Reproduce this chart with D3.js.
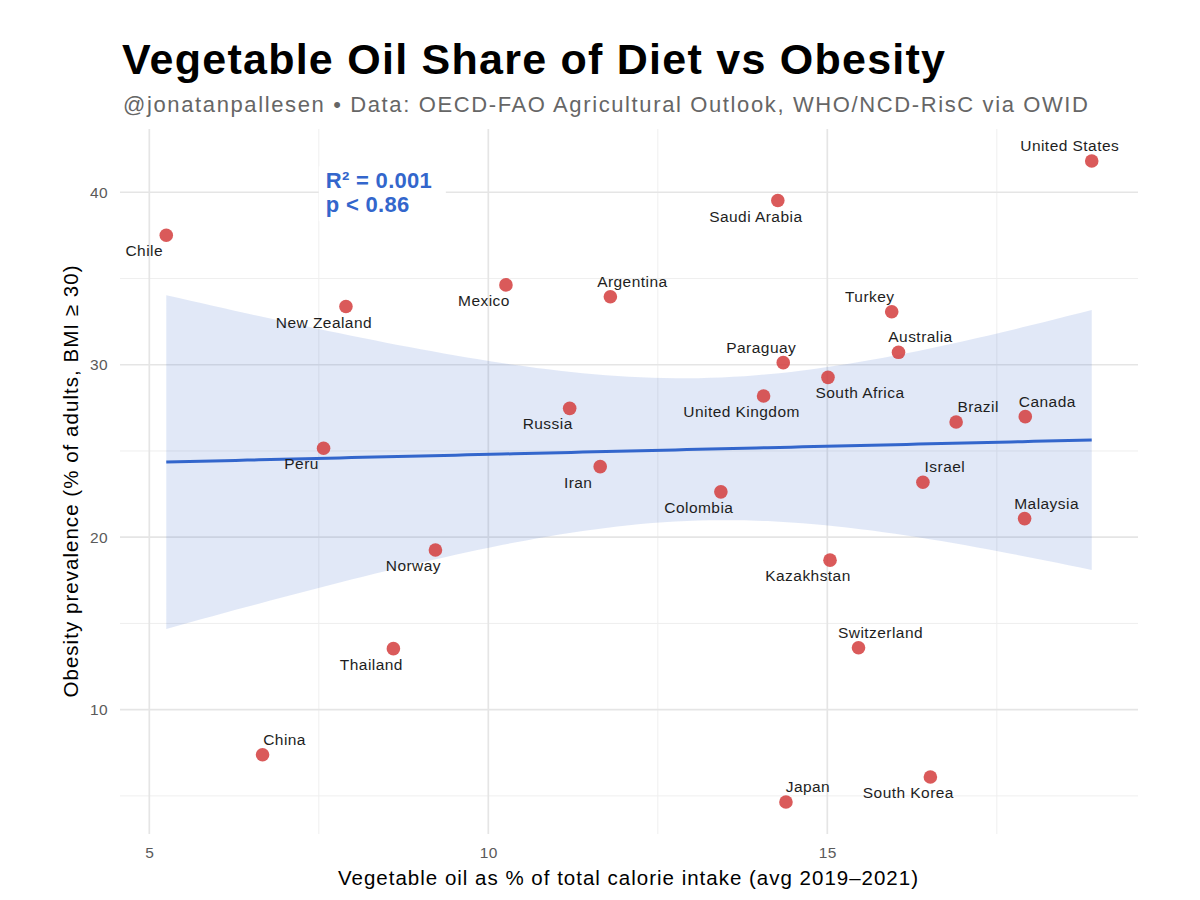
<!DOCTYPE html>
<html>
<head>
<meta charset="utf-8">
<script src="https://cdn.jsdelivr.net/npm/d3@7"></script>
<style>
  html, body { margin: 0; padding: 0; background: #fff; }
  svg { display: block; font-family: "Liberation Sans", Arial, Helvetica, sans-serif; }
</style>
</head>
<body>
<svg id="chart" width="1200" height="900"></svg>
<script>
// ---- Data ----
const countries = ["Chile","New Zealand","Mexico","Peru","United States","Saudi Arabia","Argentina","Turkey","Australia","Paraguay","South Africa","United Kingdom","Russia","Brazil","Canada","Iran","Colombia","Israel","Malaysia","Kazakhstan","Switzerland","China","Thailand","Norway","Japan","South Korea"];
const vegOilPct  = [5.25, 7.90, 10.26, 7.57, 18.90, 14.27, 11.80, 15.95, 16.05, 14.35, 15.01, 14.06, 11.20, 16.90, 17.92, 11.65, 13.43, 16.41, 17.91, 15.04, 15.46, 6.67, 8.60, 9.22, 14.39, 16.52];
const obesityPct = [37.51, 33.38, 34.63, 25.16, 41.81, 39.52, 33.94, 33.07, 30.72, 30.12, 29.27, 28.19, 27.47, 26.68, 26.99, 24.09, 22.63, 23.19, 21.08, 18.67, 13.59, 7.39, 13.54, 19.26, 4.65, 6.10];
// label side relative to point: a=above, b=below, l=left, r=right
const labelSide  = ["bl","bl","bl","bl","al","bl","ar","al","ar","al","br","bl","bl","ar","ar","bl","bl","ar","ar","bl","ar","ar","bl","bl","ar","bl"];

const xTicks = [5, 10, 15];
const xMinorTicks = [7.5, 12.5, 17.5];
const yTicks = [10, 20, 30, 40];
const yMinorTicks = [5, 15, 25, 35];

const titleText = "Vegetable Oil Share of Diet vs Obesity";
const subtitleText = "@jonatanpallesen \u2022 Data: OECD-FAO Agricultural Outlook, WHO/NCD-RisC via OWID";
const xTitle = "Vegetable oil as % of total calorie intake (avg 2019\u20132021)";
const yTitle = "Obesity prevalence (% of adults, BMI \u2265 30)";
const statLines = ["R\u00b2 = 0.001", "p < 0.86"];
const tCrit = 2.0639; // t(0.975, df = 24)

// ---- Layout ----
const svg = d3.select("#chart");
const panel = { left: 120, right: 1138, top: 129, bottom: 834 };

const data = countries.map((c, i) => ({ name: c, x: vegOilPct[i], y: obesityPct[i], side: labelSide[i] }));

function expand(ext, f) { const r = ext[1] - ext[0]; return [ext[0] - r * f, ext[1] + r * f]; }
const xExt = d3.extent(vegOilPct), yExt = d3.extent(obesityPct);
const x = d3.scaleLinear().domain(expand(xExt, 0.05)).range([panel.left, panel.right]);
const y = d3.scaleLinear().domain(expand(yExt, 0.05)).range([panel.bottom, panel.top]);

// ---- Grid ----
const grid = svg.append("g");
grid.selectAll(".xminor").data(xMinorTicks).join("line")
  .attr("x1", d => x(d)).attr("x2", d => x(d)).attr("y1", panel.top).attr("y2", panel.bottom)
  .attr("stroke", "#efefef").attr("stroke-width", 1);
grid.selectAll(".yminor").data(yMinorTicks).join("line")
  .attr("y1", d => y(d)).attr("y2", d => y(d)).attr("x1", panel.left).attr("x2", panel.right)
  .attr("stroke", "#efefef").attr("stroke-width", 1);
grid.selectAll(".xmajor").data(xTicks).join("line")
  .attr("x1", d => x(d)).attr("x2", d => x(d)).attr("y1", panel.top).attr("y2", panel.bottom)
  .attr("stroke", "#e5e5e5").attr("stroke-width", 1.7);
grid.selectAll(".ymajor").data(yTicks).join("line")
  .attr("y1", d => y(d)).attr("y2", d => y(d)).attr("x1", panel.left).attr("x2", panel.right)
  .attr("stroke", "#e5e5e5").attr("stroke-width", 1.7);

// ---- Axes (tick labels only, theme_minimal style) ----
const xAxis = svg.append("g").attr("transform", `translate(0,${panel.bottom + 13})`)
  .call(d3.axisBottom(x).tickValues(xTicks).tickSize(0).tickPadding(0).tickFormat(d3.format("d")));
xAxis.select(".domain").remove();
xAxis.selectAll("text").attr("font-size", 15.5).attr("fill", "#5a5a5a").attr("dy", "0.71em")
  .attr("letter-spacing", 0.4)
  .style("font-family", '"Liberation Sans", Arial, sans-serif');

const yAxis = svg.append("g").attr("transform", `translate(${panel.left - 12},0)`)
  .call(d3.axisLeft(y).tickValues(yTicks).tickSize(0).tickPadding(0).tickFormat(d3.format("d")));
yAxis.select(".domain").remove();
yAxis.selectAll("text").attr("font-size", 15.5).attr("fill", "#5a5a5a").attr("letter-spacing", 0.4)
  .style("font-family", '"Liberation Sans", Arial, sans-serif');

// ---- Linear regression with 95% confidence band ----
const n = data.length;
const mx = d3.mean(vegOilPct), my = d3.mean(obesityPct);
const sxx = d3.sum(vegOilPct, v => (v - mx) ** 2);
const sxy = d3.sum(data, d => (d.x - mx) * (d.y - my));
const slope = sxy / sxx, intercept = my - slope * mx;
const sse = d3.sum(data, d => (d.y - (intercept + slope * d.x)) ** 2);
const s = Math.sqrt(sse / (n - 2));
const band = d3.range(0, 81).map(i => {
  const xv = xExt[0] + (xExt[1] - xExt[0]) * i / 80;
  const fit = intercept + slope * xv;
  const se = s * Math.sqrt(1 / n + (xv - mx) ** 2 / sxx);
  return { x: xv, fit, lo: fit - tCrit * se, hi: fit + tCrit * se };
});
svg.append("path").datum(band)
  .attr("d", d3.area().x(d => x(d.x)).y0(d => y(d.lo)).y1(d => y(d.hi)))
  .attr("fill", "#3366cc").attr("fill-opacity", 0.15);
svg.append("path").datum(band)
  .attr("d", d3.line().x(d => x(d.x)).y(d => y(d.fit)))
  .attr("fill", "none").attr("stroke", "#3366cc").attr("stroke-width", 3);

// ---- Points ----
svg.append("g").selectAll("circle").data(data).join("circle")
  .attr("cx", d => x(d.x)).attr("cy", d => y(d.y)).attr("r", 6.8)
  .attr("fill", "#d43d3d").attr("fill-opacity", 0.85);

// ---- Labels ----
const nudge = { dx: 22, dy: 15.5 };
svg.append("g").selectAll("text").data(data).join("text")
  .attr("x", d => x(d.x) + (d.side[1] === "l" ? -nudge.dx : (d.name === "South Africa" ? 32 : nudge.dx)))
  .attr("y", d => y(d.y) + (d.side[0] === "a" ? -nudge.dy : nudge.dy))
  .attr("dy", "0.36em")
  .attr("text-anchor", "middle")
  .attr("font-size", 15.5).attr("letter-spacing", 0.45).attr("fill", "#1e1e1e")
  .text(d => d.name);

// ---- Stats label ----
const statG = svg.append("g");
const statX = x(7.5) + 7, statY0 = y(40) - 4;
statG.append("rect").attr("x", x(7.5)).attr("y", statY0 - 22).attr("width", 127).attr("height", 55)
  .attr("fill", "#fff");
statG.selectAll("text").data(statLines).join("text")
  .attr("x", statX).attr("y", (d, i) => statY0 + i * 24)
  .attr("font-size", 22).attr("letter-spacing", 0.3).attr("font-weight", "bold").attr("fill", "#3366cc")
  .text(d => d);

// ---- Titles ----
svg.append("text").attr("x", 122).attr("y", 73.5).attr("font-size", 43).attr("font-weight", "bold")
  .attr("textLength", 823).attr("lengthAdjust", "spacing")
  .attr("fill", "#000").text(titleText);
svg.append("text").attr("x", 123).attr("y", 112).attr("font-size", 22).attr("fill", "#666")
  .attr("textLength", 965).attr("lengthAdjust", "spacing")
  .text(subtitleText);
svg.append("text").attr("x", 338).attr("y", 885)
  .attr("font-size", 20.5).attr("fill", "#000")
  .attr("textLength", 580).attr("lengthAdjust", "spacing").text(xTitle);
const yMid = (panel.top + panel.bottom) / 2;
svg.append("text").attr("transform", `translate(78,${yMid + 216}) rotate(-90)`)
  .attr("font-size", 20.5).attr("fill", "#000")
  .attr("textLength", 432).attr("lengthAdjust", "spacing").text(yTitle);
</script>
</body>
</html>
